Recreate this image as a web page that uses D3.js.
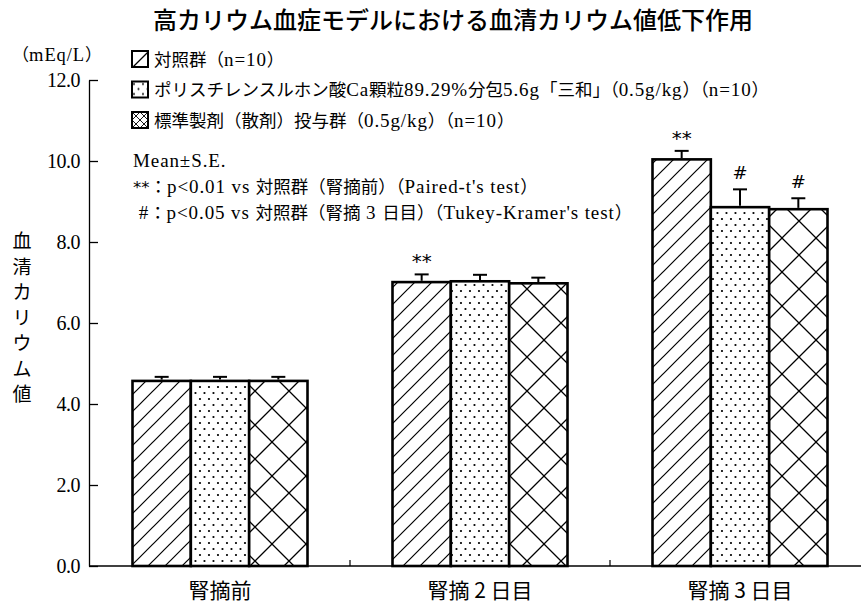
<!DOCTYPE html>
<html>
<head>
<meta charset="utf-8">
<script src="https://cdn.jsdelivr.net/npm/d3@7"></script>
<style>
  body { margin: 0; background: #fff; }
  text { font-family: 'Liberation Serif', 'Noto Sans CJK JP', serif; fill: #000; }
</style>
</head>
<body>
<div id="chart"></div>
<script>
// data
const categories = ["腎摘前", "腎摘 2 日目", "腎摘 3 日目"];
const seriesNames = [
  "対照群（n=10）",
  "ポリスチレンスルホン酸Ca顆粒89.29%分包5.6g「三和」（0.5g/kg）（n=10）",
  "標準製剤（散剤）投与群（0.5g/kg）（n=10）"
];
const patterns = ["diag", "dots", "cross"];
const controlMean = [4.57, 7.01, 10.04];
const polyMean = [4.57, 7.03, 8.86];
const standardMean = [4.57, 6.98, 8.81];
const controlSE = [0.1, 0.19, 0.21];
const polySE = [0.1, 0.16, 0.44];
const standardSE = [0.1, 0.14, 0.27];
const controlMark = ["", "**", "**"];
const polyMark = ["", "", "#"];
const standardMark = ["", "", "#"];
const yTicks = [0, 2, 4, 6, 8, 10, 12];
const notes = [
  "Mean±S.E.",
  "**：p<0.01 vs 対照群（腎摘前）（Paired-t's test）",
  " #：p<0.05 vs 対照群（腎摘 3 日目）（Tukey-Kramer's test）"
];
const yLabel = "血清カリウム値";

const means = [controlMean, polyMean, standardMean];
const ses = [controlSE, polySE, standardSE];
const marks = [controlMark, polyMark, standardMark];

const W = 861, H = 606;
const svg = d3.select("#chart").append("svg")
  .attr("width", W).attr("height", H);

// hatch patterns
const defs = svg.append("defs");
function diagPattern(id, s, sw) {
  const d = defs.append("pattern").attr("id", id)
    .attr("patternUnits", "userSpaceOnUse").attr("width", s).attr("height", s);
  d.append("rect").attr("width", s).attr("height", s).attr("fill", "#fff");
  d.append("path")
    .attr("d", `M0,${s}L${s},0M-3,3L3,-3M${s - 3},${s + 3}L${s + 3},${s - 3}`)
    .attr("stroke", "#000").attr("stroke-width", sw);
}
function dotPattern(id, w, h, r) {
  const p = defs.append("pattern").attr("id", id)
    .attr("patternUnits", "userSpaceOnUse").attr("width", w).attr("height", h);
  p.append("rect").attr("width", w).attr("height", h).attr("fill", "#fff");
  p.append("circle").attr("cx", w * 0.22).attr("cy", h * 0.25).attr("r", r).attr("fill", "#000");
  p.append("circle").attr("cx", w * 0.72).attr("cy", h * 0.75).attr("r", r).attr("fill", "#000");
}
function crossPattern(id, s, sw) {
  const c = defs.append("pattern").attr("id", id)
    .attr("patternUnits", "userSpaceOnUse").attr("width", s).attr("height", s);
  c.append("rect").attr("width", s).attr("height", s).attr("fill", "#fff");
  c.append("path")
    .attr("d", `M0,0L${s},${s}M${s},0L0,${s}`)
    .attr("stroke", "#000").attr("stroke-width", sw);
}
diagPattern("diag", 17, 1.2);
dotPattern("dots", 9, 12, 1.1);
crossPattern("cross", 34, 1.3);
diagPattern("diag-s", 17, 1.3);
dotPattern("dots-s", 9, 10, 1);
crossPattern("cross-s", 8, 0.9);

// mixed text: CJK in Noto Sans CJK, latin in a serif, asterisks in a heavier face
const CJK = /[\u3000-\u30ff\u4e00-\u9fff\uff00-\uffef]/;
function richText(sel, str, cjkSize, latSize) {
  const runs = str.match(/[\u3000-\u30ff\u4e00-\u9fff\uff00-\uffef]+|\*+|[^\u3000-\u30ff\u4e00-\u9fff\uff00-\uffef*]+/g) || [];
  runs.forEach(r => {
    const t = sel.append("tspan").text(r);
    if (CJK.test(r)) {
      t.style("font-family", "'Noto Sans CJK JP', sans-serif").style("font-size", cjkSize + "px");
    } else if (r[0] === "*") {
      t.style("font-family", "'DejaVu Sans', sans-serif").style("font-size", (cjkSize - 1) + "px");
    } else {
      t.style("font-family", "'Liberation Serif', serif").style("font-size", latSize + "px")
        .style("letter-spacing", "0.9px");
    }
  });
}

// scales
const x = d3.scaleBand().domain(categories).range([90, 870]);
const groupW = 175;
const xi = d3.scaleBand().domain(d3.range(seriesNames.length)).range([0, groupW]);
const y = d3.scaleLinear().domain([0, 12]).range([566, 80]);
const x0 = c => x(c) + (x.bandwidth() - groupW) / 2;

// title
svg.append("text")
  .attr("x", 453).attr("y", 29)
  .attr("text-anchor", "middle")
  .style("font-family", "'Noto Sans CJK JP', sans-serif")
  .style("font-size", "24px").style("font-weight", 500)
  .text("高カリウム血症モデルにおける血清カリウム値低下作用");

// y axis
const yAxis = svg.append("g")
  .attr("transform", "translate(89,0)")
  .call(d3.axisLeft(y).tickValues(yTicks).tickFormat(d3.format(".1f"))
    .tickSizeInner(-9).tickSizeOuter(0).tickPadding(9));
yAxis.selectAll("path, line").attr("stroke", "#000").attr("stroke-width", 1.3);
yAxis.selectAll("text")
  .style("font-size", "20px").style("font-family", "'Liberation Serif', serif")
  .attr("letter-spacing", "-0.5");

svg.append("text")
  .attr("x", 102).attr("y", 61)
  .attr("text-anchor", "end")
  .call(richText, "（mEq/L）", 17, 18.5);

// vertical y label
svg.append("g").selectAll("text")
  .data(Array.from(yLabel))
  .join("text")
    .attr("x", 22)
    .attr("y", (d, i) => 248 + i * 25.5)
    .attr("text-anchor", "middle")
    .style("font-family", "'Noto Sans CJK JP', sans-serif")
    .style("font-size", "19px")
    .text(d => d);

// x axis
const xAxis = svg.append("g")
  .attr("transform", "translate(0,566)")
  .call(d3.axisBottom(x).tickSize(0).tickPadding(17));
xAxis.select(".domain").attr("d", "M89,0H861").attr("stroke", "#000").attr("stroke-width", 1.3);
xAxis.selectAll("text")
  .style("font-family", "'Noto Sans CJK JP', sans-serif")
  .style("font-size", "21px");
svg.append("g").selectAll("line")
  .data(categories.slice(1))
  .join("line")
    .attr("x1", d => x(d)).attr("x2", d => x(d))
    .attr("y1", 566).attr("y2", 560)
    .attr("stroke", "#000").attr("stroke-width", 1.2);

// bars
const cells = [];
categories.forEach((c, ci) => {
  seriesNames.forEach((s, si) => {
    cells.push({ c, si, v: means[si][ci], se: ses[si][ci], mark: marks[si][ci] });
  });
});

svg.append("g").selectAll("rect")
  .data(cells)
  .join("rect")
    .attr("x", d => x0(d.c) + xi(d.si))
    .attr("y", d => y(d.v))
    .attr("width", xi.bandwidth())
    .attr("height", d => y(0) - y(d.v))
    .attr("fill", d => `url(#${patterns[d.si]})`)
    .attr("stroke", "#000")
    .attr("stroke-width", 2.6);

// error bars
const cx = d => x0(d.c) + xi(d.si) + xi.bandwidth() / 2;
const err = svg.append("g").attr("stroke", "#000").attr("stroke-width", 2);
err.selectAll(".stem")
  .data(cells)
  .join("line")
    .attr("class", "stem")
    .attr("x1", cx).attr("x2", cx)
    .attr("y1", d => y(d.v) - 1.3)
    .attr("y2", d => y(d.v + d.se));
err.selectAll(".cap")
  .data(cells)
  .join("line")
    .attr("class", "cap")
    .attr("x1", d => cx(d) - 7)
    .attr("x2", d => cx(d) + 7)
    .attr("y1", d => y(d.v + d.se))
    .attr("y2", d => y(d.v + d.se));

// significance marks
svg.append("g").selectAll("text")
  .data(cells.filter(d => d.mark))
  .join("text")
    .attr("x", cx)
    .attr("y", d => y(d.v + d.se) - (d.mark === "#" ? 10 : 6))
    .attr("text-anchor", "middle")
    .style("font-size", d => d.mark === "#" ? "18px" : "20px")
    .style("font-family", "'DejaVu Sans', sans-serif")
    .text(d => d.mark);

// legend
const legend = svg.append("g").selectAll("g")
  .data(seriesNames)
  .join("g")
    .attr("transform", (d, i) => `translate(132,${51 + i * 30.5})`);
legend.append("rect")
  .attr("width", 16).attr("height", 16)
  .attr("fill", (d, i) => `url(#${patterns[i]}-s)`)
  .attr("stroke", "#000").attr("stroke-width", 2);
legend.append("text")
  .attr("x", 22).attr("y", 14.5)
  .each(function (d) { richText(d3.select(this), d, 17.5, 19); });

// notes
svg.append("g").selectAll("text")
  .data(notes)
  .join("text")
    .attr("x", 133)
    .attr("y", (d, i) => 167 + i * 26)
    .attr("xml:space", "preserve")
    .style("white-space", "pre")
    .each(function (d) { richText(d3.select(this), d, 17.5, 19); });
</script>
</body>
</html>
